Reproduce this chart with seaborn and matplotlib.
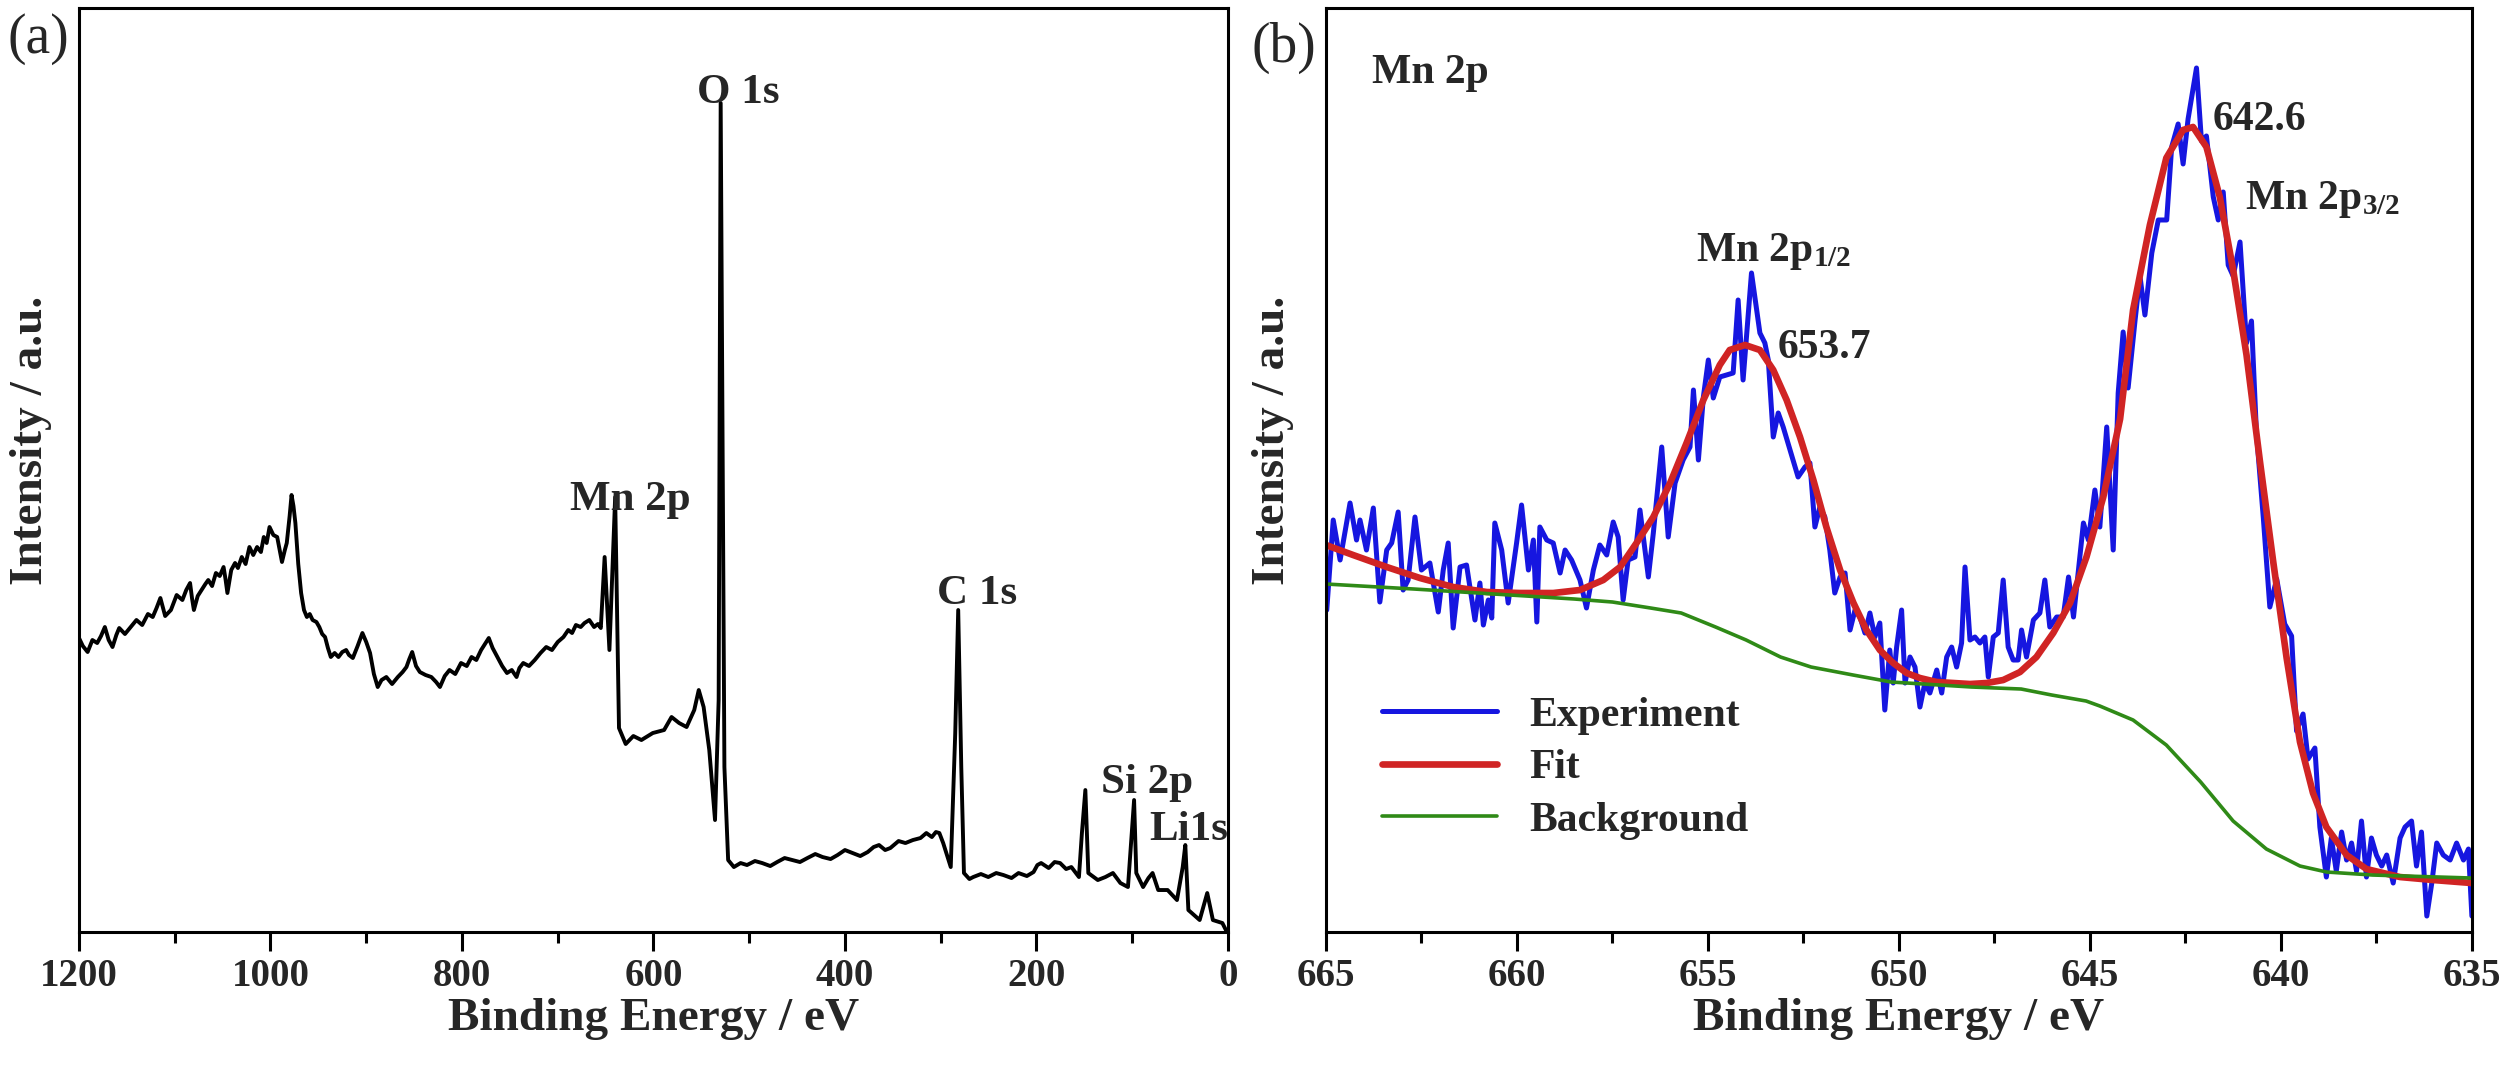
import numpy as np
import pandas as pd
import matplotlib
matplotlib.use("Agg")
import matplotlib.pyplot as plt
import seaborn as sns
from matplotlib.ticker import MultipleLocator

# ---- survey spectrum (a) ----
survey_ev = [1200, 1196, 1191, 1186, 1181, 1177, 1173, 1169, 1165, 1161, 1158, 1152, 1146, 1140,
             1134, 1128, 1123, 1119, 1115, 1110, 1104, 1098, 1092, 1088, 1084, 1082, 1080, 1076,
             1072, 1068, 1065, 1061, 1057, 1053, 1049, 1047, 1045, 1041, 1037, 1034, 1030, 1026,
             1022, 1018, 1014, 1010, 1007, 1004, 1001, 997, 993, 990, 988, 985, 983, 980, 978, 976,
             974, 971, 968, 965, 962, 959, 956, 952, 949, 946, 943, 940, 937, 933, 929, 925, 921,
             918, 914, 909, 904, 900, 896, 892, 888, 884, 879, 873, 867, 862, 858, 855, 852, 848,
             844, 838, 832, 827, 823, 818, 813, 807, 801, 795, 790, 785, 780, 776, 772, 768, 763,
             758, 753, 748, 743, 740, 736, 730, 724, 718, 712, 706, 700, 694, 689, 685, 681, 676,
             672, 667, 662, 658, 655, 651, 646, 640, 636, 629, 621, 612.6, 600.7, 588.9, 581.1,
             573.2, 565.4, 557.4, 552.7, 547.6, 541.7, 535.7, 531.9, 529.8, 525.9, 522, 516, 509,
             502.3, 494, 486.5, 478, 470.8, 463, 455, 447, 439.2, 431, 423.4, 415, 407.7, 400,
             391.9, 384, 376.2, 370, 364.4, 358, 352.6, 344, 336.8, 329, 321.1, 315, 309.2, 305,
             301.4, 297.4, 289.5, 284.8, 281.7, 278.5, 275.7, 270, 266, 258, 250.3, 242, 234.5, 226,
             218.7, 210, 203, 199, 195.1, 187.2, 181, 175.3, 169, 163.5, 155.6, 152.5, 148.9,
             145.8, 135.9, 128.0, 120.1, 112.3, 104.4, 100.4, 98.0, 95.7, 88.6, 83, 78.7, 72.8,
             63.0, 53.2, 47.2, 44.5, 41.3, 29.5, 21.6, 15.7, 5.8, 0]
survey_int = [298, 290, 284, 296, 293, 300, 309, 296, 289, 301, 308, 302, 309, 316,
              311, 322, 319, 328, 338, 320, 326, 341, 336, 346, 353, 338, 326, 340,
              346, 352, 356, 350, 363, 360, 369, 357, 343, 366, 373, 368, 379, 372,
              389, 381, 389, 384, 399, 393, 409, 401, 399, 384, 374, 386, 393, 420, 441, 430,
              413, 372, 343, 326, 319, 322, 316, 314, 309, 302, 299, 288, 279, 283, 279, 284, 286,
              281, 278, 290, 303, 294, 283, 262, 249, 256, 259, 252, 259, 264, 269, 277, 284, 270,
              264, 261, 259, 254, 249, 260, 266, 262, 273, 270, 279, 276, 286, 292, 298, 288, 279,
              270, 263, 266, 259, 268, 273, 270, 276, 283, 289, 286, 294, 299, 306, 303, 311, 309,
              313, 316, 309, 312, 308, 379, 286, 439, 208, 192, 200, 196, 203, 206, 219,
              213, 209, 226, 246, 229, 186, 116, 236, 833, 169, 76, 69, 73,
              71, 75, 73, 70, 74, 78, 76, 74, 78, 82, 79, 77, 81, 86,
              83, 80, 84, 89, 91, 86, 88, 95, 93, 96, 98, 103, 99, 104,
              103, 93, 69, 203, 326, 169, 63, 57, 59, 62, 59, 63, 61, 58,
              63, 60, 64, 71, 73, 68, 74, 73, 67, 69, 59, 103, 146,
              63, 56, 59, 63, 53, 49, 103, 136, 63, 49, 58, 63, 46,
              46, 36, 69, 91, 26, 16, 43, 16, 13, 2]

survey_labels = ["O 1s", "Mn 2p", "C 1s", "Si 2p", "Li1s"]
survey_label_ev = [511, 624, 262, 84, 41]
survey_label_int = [833, 426, 332, 143, 96]

# ---- Mn 2p high resolution (b) ----
exp_ev = [664.98, 664.81, 664.63, 664.37, 664.20, 664.11, 663.94, 663.76, 663.59, 663.41, 663.28,
          663.11, 662.98, 662.85, 662.67, 662.50, 662.28, 662.06, 661.93, 661.80, 661.67, 661.49,
          661.32, 661.10, 660.97, 660.88, 660.75, 660.66, 660.58, 660.40, 660.23, 660.01, 659.88,
          659.70, 659.57, 659.48, 659.40, 659.22, 659.05, 658.87, 658.74, 658.57, 658.35, 658.18,
          658.00, 657.83, 657.65, 657.48, 657.35, 657.22, 657.09, 656.91, 656.78, 656.56, 656.43,
          656.21, 656.04, 655.86, 655.65, 655.47, 655.38, 655.25, 655.12, 654.99, 654.86, 654.69,
          654.51, 654.34, 654.21, 654.08, 653.86, 653.64, 653.51, 653.42, 653.29, 653.16, 653.03,
          652.85, 652.64, 652.46, 652.33, 652.20, 652.07, 651.94, 651.81, 651.68, 651.54, 651.41,
          651.28, 651.15, 651.02, 650.89, 650.76, 650.63, 650.50, 650.37, 650.24, 650.15, 650.06,
          649.93, 649.84, 649.71, 649.58, 649.45, 649.32, 649.19, 649.01, 648.88, 648.75, 648.62,
          648.49, 648.36, 648.27, 648.14, 648.01, 647.88, 647.75, 647.66, 647.53, 647.40, 647.27,
          647.14, 647.01, 646.88, 646.79, 646.66, 646.48, 646.31, 646.18, 646.05, 645.87, 645.70,
          645.56, 645.43, 645.30, 645.17, 645.04, 644.87, 644.74, 644.56, 644.39, 644.26, 644.13,
          644.00, 643.82, 643.69, 643.56, 643.38, 643.21, 642.99, 642.86, 642.69, 642.56, 642.43,
          642.21, 642.08, 641.95, 641.77, 641.64, 641.51, 641.38, 641.25, 641.07, 640.90, 640.77,
          640.64, 640.46, 640.29, 640.11, 639.90, 639.72, 639.59, 639.42, 639.29, 639.11, 638.98,
          638.81, 638.68, 638.55, 638.41, 638.28, 638.15, 638.02, 637.89, 637.76, 637.63, 637.50,
          637.36, 637.23, 637.06, 636.88, 636.75, 636.58, 636.45, 636.32, 636.18, 636.05, 635.92,
          635.75, 635.57, 635.40, 635.22, 635.09, 635.00]
exp_int = [319, 409, 369, 426, 389, 409, 379, 421, 327, 379, 386,
           417, 339, 349, 412, 359, 366, 317, 359, 386, 301, 362,
           364, 309, 346, 304, 329, 311, 406, 379, 326, 386, 424,
           359, 389, 307, 402, 389, 386, 356, 379, 369, 349, 321,
           359, 384, 374, 407, 392, 329, 369, 372, 419, 352, 396,
           482, 392, 446, 469, 482, 539, 469, 532, 569, 531, 552,
           554, 556, 629, 549, 656, 596, 586, 569, 492, 516, 502,
           479, 452, 462, 466, 402, 422, 412, 379, 336, 352, 356,
           299, 319, 312, 296, 316, 292, 306, 219, 279, 246, 282,
           319, 246, 272, 262, 222, 246, 236, 259, 236, 272, 282,
           262, 286, 362, 289, 292, 286, 292, 252, 292, 296, 349,
           282, 269, 269, 299, 272, 309, 316, 349, 302, 312, 312,
           352, 312, 359, 406, 389, 439, 402, 502, 379, 536, 597,
           541, 608, 653, 614, 676, 709, 709, 782, 805, 765, 810,
           861, 788, 793, 732, 709, 737, 664, 653, 687, 586, 608,
           496, 411, 322, 350, 305, 293, 198, 215, 170, 181, 102,
           52, 91, 58, 97, 69, 86, 58, 108, 52, 91, 74,
           63, 74, 46, 91, 102, 108, 63, 97, 13, 46, 86,
           74, 69, 86, 69, 80, 13]

fit_ev = [665.0, 664.29, 663.41, 662.54, 661.67, 660.79, 659.92, 659.05, 658.35, 657.74, 657.30,
          656.87, 656.43, 655.99, 655.56, 655.12, 654.69, 654.43, 654.03, 653.64, 653.29, 652.94,
          652.59, 652.24, 651.90, 651.54, 651.19, 650.85, 650.50, 650.15, 649.80, 649.45, 649.01,
          648.57, 648.14, 647.70, 647.27, 646.83, 646.40, 645.96, 645.52, 645.09, 644.65, 644.21,
          643.87, 643.43, 643.00, 642.56, 642.30, 641.95, 641.60, 641.25, 640.90, 640.55, 640.20,
          639.85, 639.50, 639.16, 638.81, 638.28, 637.76, 636.88, 636.01, 635.0]
fit_int = [384, 374, 362, 351, 342, 337, 336, 336, 339, 349, 362,
           386, 412, 446, 486, 529, 564, 579, 584, 579, 559, 529,
           492, 449, 402, 359, 326, 299, 279, 266, 256, 251, 247,
           246, 245, 246, 249, 257, 272, 296, 326, 372, 432, 510,
           619, 704, 771, 799, 802, 782, 732, 659, 574, 468, 367,
           271, 187, 136, 102, 74, 60, 52, 49, 46]

bg_ev = [665, 662.7, 660.6, 658.5, 657.5, 656.5, 655.7, 654.8, 654.0, 653.1, 652.3, 651.2, 650.2,
         648.1, 646.8, 646.0, 645.1, 644.74, 643.87, 643.0, 642.1, 641.25, 640.38, 639.5, 638.8,
         637.6, 635]
bg_int = [345, 340, 335, 330, 327, 321, 316, 302, 289, 272, 262, 254, 247,
          242, 240, 234, 228, 223, 209, 184, 147, 108, 80, 63, 57,
          54, 51]

sns.set_style("ticks")
plt.rcParams["font.family"] = ["Liberation Serif", "DejaVu Serif"]
plt.rcParams["mathtext.fontset"] = "custom"
plt.rcParams["mathtext.rm"] = "Liberation Serif:bold"
plt.rcParams["mathtext.bf"] = "Liberation Serif:bold"
plt.rcParams["mathtext.it"] = "Liberation Serif:bold"

BLUE = "#1616E0"
RED = "#D02424"
GREEN = "#2F8A17"

fig = plt.figure(figsize=(25.08, 10.77), dpi=100)
ax1 = fig.add_axes([0.0315, 0.1346, 0.4581, 0.858])
ax2 = fig.add_axes([0.5287, 0.1346, 0.4569, 0.858])

sns.lineplot(x=survey_ev, y=survey_int, ax=ax1, color="black", linewidth=2.8, sort=False)
ax1.set_xlim(1200, 0)
ax1.set_ylim(4, 928)
ax1.xaxis.set_major_locator(MultipleLocator(200))
ax1.xaxis.set_minor_locator(MultipleLocator(100))
for lab, xe, yi in zip(survey_labels, survey_label_ev, survey_label_int):
    ax1.text(xe, yi, lab, ha="center", va="baseline", fontsize=31, fontweight="bold")

sns.lineplot(x=exp_ev, y=exp_int, ax=ax2, color=BLUE, linewidth=3.6, sort=False, label="Experiment")
sns.lineplot(x=fit_ev, y=fit_int, ax=ax2, color=RED, linewidth=4.8, sort=False, label="Fit")
sns.lineplot(x=bg_ev, y=bg_int, ax=ax2, color=GREEN, linewidth=2.6, sort=False, label="Background")
ax2.set_xlim(665, 635)
ax2.set_ylim(-3, 921)
ax2.xaxis.set_major_locator(MultipleLocator(5))
ax2.xaxis.set_minor_locator(MultipleLocator(2.5))
ax2.legend(loc="upper left", bbox_to_anchor=(0.049, 0.255), frameon=False,
           prop={"weight": "bold", "size": 30}, handlelength=2.76, handletextpad=0.76,
           labelspacing=0.35, borderpad=0, borderaxespad=0)

ax2.text(663.8, 846, "Mn 2p", ha="left", va="baseline", fontsize=30, fontweight="bold")
ax2.text(653.27, 668, r"Mn 2p$_{1/2}$", ha="center", va="baseline", fontsize=30, fontweight="bold")
ax2.text(653.17, 571, "653.7", ha="left", va="baseline", fontsize=30, fontweight="bold")
ax2.text(641.78, 799, "642.6", ha="left", va="baseline", fontsize=30, fontweight="bold")
ax2.text(640.94, 720, r"Mn 2p$_{3/2}$", ha="left", va="baseline", fontsize=30, fontweight="bold")

for ax, lx in ((ax1, -0.0235), (ax2, -0.028)):
    ax.set_yticks([])
    ax.set_xlabel("Binding Energy / eV", fontsize=34, fontweight="bold", labelpad=2)
    ax.set_ylabel("Intensity / a.u.", fontsize=34, fontweight="bold")
    ax.yaxis.set_label_coords(lx, 0.532)
    ax.tick_params(axis="x", which="major", length=13.7, width=2.2, direction="out",
                   labelsize=28, pad=5, color="black")
    ax.tick_params(axis="x", which="minor", length=8, width=2.2, direction="out", color="black")
    for lbl in ax.get_xticklabels():
        lbl.set_fontweight("bold")
    for s in ax.spines.values():
        s.set_linewidth(2.2)
        s.set_color("black")

fig.text(0.003, 0.988, "(a)", ha="left", va="top", fontsize=40)
fig.text(0.499, 0.980, "(b)", ha="left", va="top", fontsize=40)

fig.savefig("out.png", dpi=100)
